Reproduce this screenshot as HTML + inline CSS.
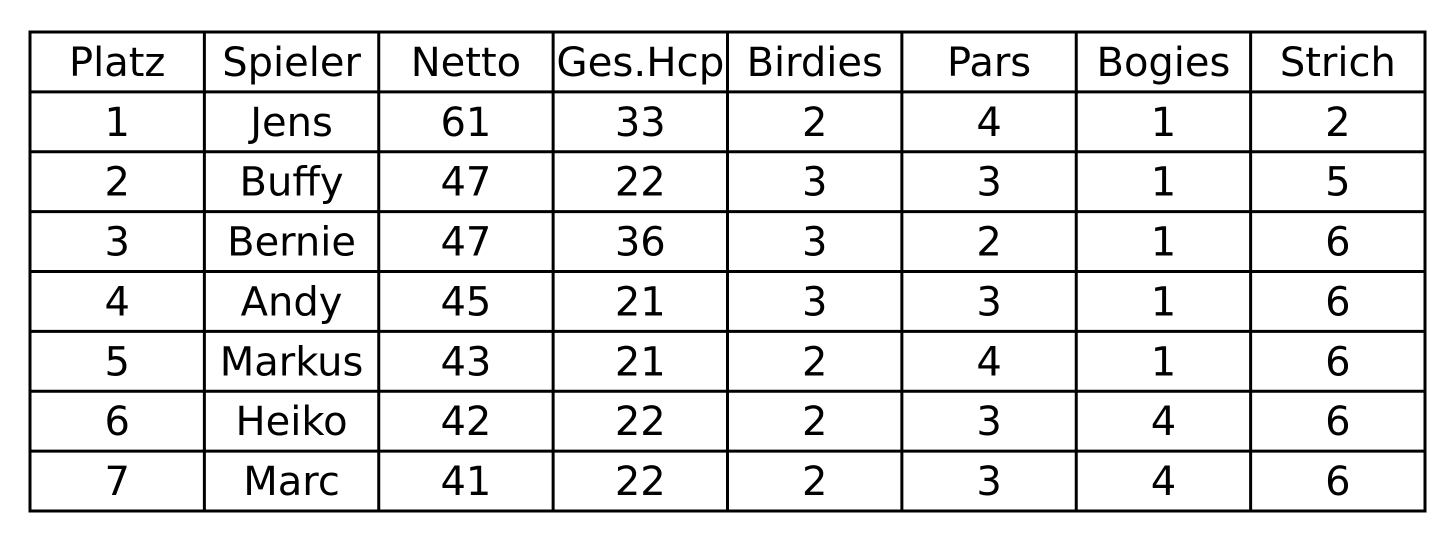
<!DOCTYPE html>
<html><head><meta charset="utf-8"><style>
html,body{margin:0;padding:0;background:#fff;width:1455px;height:545px;overflow:hidden}
svg text{font-family:"DejaVu Sans","Liberation Sans",sans-serif;font-size:40px;fill:#000}
</style></head><body>
<svg id="t" width="1455" height="545"></svg>
<script>
const headers=["Platz","Spieler","Netto","Ges.Hcp","Birdies","Pars","Bogies","Strich"];
const rows=[
["1","Jens","61","33","2","4","1","2"],
["2","Buffy","47","22","3","3","1","5"],
["3","Bernie","47","36","3","2","1","6"],
["4","Andy","45","21","3","3","1","6"],
["5","Markus","43","21","2","4","1","6"],
["6","Heiko","42","22","2","3","4","6"],
["7","Marc","41","22","2","3","4","6"]];
const svg=document.getElementById('t');
const NS='http://www.w3.org/2000/svg';
const L=30,R=1425,T=32,B=511;
const nc=headers.length,nr=rows.length+1;
const cw=(R-L)/nc,rh=(B-T)/nr;
function line(x1,y1,x2,y2,n){const l=document.createElementNS(NS,'line');
l.setAttribute('x1',x1);l.setAttribute('y1',y1);l.setAttribute('x2',x2);l.setAttribute('y2',y2);
l.setAttribute('stroke','#000');l.setAttribute('stroke-width','3');


svg.appendChild(l);}
for(let i=0;i<=nr;i++)line(L-1.5,T+i*rh,R+1.5,T+i*rh,'row-border');
for(let j=0;j<=nc;j++)line(L+j*cw,T,L+j*cw,B,'column-border');
function txt(s,c,r,n){const t=document.createElementNS(NS,'text');
t.setAttribute('x',L+(c+0.5)*cw);t.setAttribute('y',T+(r+0.5)*rh+14);
t.setAttribute('text-anchor','middle');t.textContent=s;
if(s==="Ges.Hcp"){t.setAttribute('textLength','168');t.setAttribute('lengthAdjust','spacingAndGlyphs');}


svg.appendChild(t);}
headers.forEach((h,c)=>txt(h,c,0,'header-cell'));
rows.forEach((row,r)=>row.forEach((v,c)=>txt(v,c,r+1,'table-cell')));
</script>
</body></html>
